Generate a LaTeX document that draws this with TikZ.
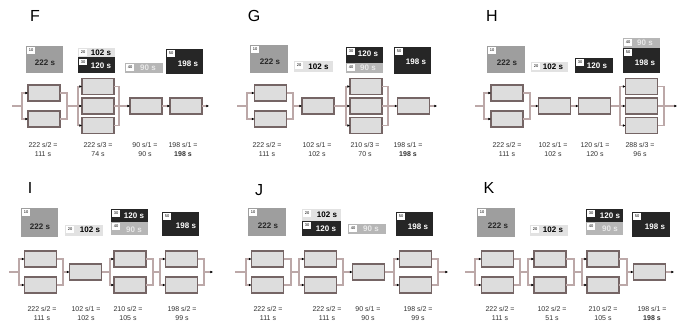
\documentclass[tikz,border=0pt]{standalone}
\usepackage{fontspec}
\setmainfont{Liberation Sans}
\usetikzlibrary{arrows.meta,calc}
\definecolor{cTen}{HTML}{9E9E9E}
\definecolor{cLight}{HTML}{E2E2E2}
\definecolor{cDark}{HTML}{262626}
\definecolor{cMid}{HTML}{B6B6B6}
\definecolor{cMidTxt}{HTML}{E8E8E8}
\definecolor{wsFill}{HTML}{DDDDDD}
\definecolor{wsLine}{HTML}{756565}
\definecolor{cnLine}{HTML}{BCA8A8}
\definecolor{resTxt}{HTML}{333333}
\tikzset{
  ws/.style={draw=wsLine, fill=wsFill, line width=1.2pt, minimum width=32pt, minimum height=16pt, inner sep=0pt, outer sep=0pt},
  cn/.style={draw=cnLine, line width=1.3pt},
  tip/.style={-{Latex[length=2.6pt,width=2.6pt,color=black]}},
  lbl/.style={fill=white, font=\fontsize{4}{4}\selectfont, text=black, minimum width=8pt, minimum height=6.5pt, inner sep=0pt},
  tt/.style={font=\fontsize{8}{9}\selectfont\bfseries, inner sep=0pt},
  onLight/.style={text=black},
  onDark/.style={text=white},
  onMid/.style={text=cMidTxt},
  onTen/.style={text=black!85},
  res/.style={font=\fontsize{7}{9}\selectfont, align=center, inner sep=0pt, text=resTxt},
  letter/.style={font=\fontsize{16}{16}\selectfont, inner sep=0pt, text=black}
}
% #1 panel, #2 stage, #3 count, #4 centre x, #5 main y, #6 left junction x, #7 right junction x
\newcommand{\Stage}[7]{%
  \ifcase#3\or
    \node[ws] (#1#2a) at (#4,#5) {};
    \coordinate (#1#2in) at ($(#1#2a.west)+(-5,0)$);
    \coordinate (#1#2out) at (#1#2a.east);
    \draw[cn,tip] (#1#2in) -- (#1#2a.west);
  \or
    \node[ws] (#1#2a) at (#4,#5-13) {};
    \node[ws] (#1#2b) at (#4,#5+13) {};
    \coordinate (#1#2in) at (#6,#5);
    \coordinate (#1#2out) at (#7,#5);
    \draw[cn,tip] (#1#2in) |- (#1#2a.west);
    \draw[cn,tip] (#1#2in) |- (#1#2b.west);
    \draw[cn] (#1#2a.east) -| (#1#2out);
    \draw[cn] (#1#2b.east) -| (#1#2out);
  \or
    \node[ws] (#1#2a) at (#4,#5-19.5) {};
    \node[ws] (#1#2b) at (#4,#5) {};
    \node[ws] (#1#2c) at (#4,#5+19.5) {};
    \coordinate (#1#2in) at (#6,#5);
    \coordinate (#1#2out) at (#7,#5);
    \draw[cn,tip] (#1#2in) |- (#1#2a.west);
    \draw[cn,tip] (#1#2in) -- (#1#2b.west);
    \draw[cn,tip] (#1#2in) |- (#1#2c.west);
    \draw[cn] (#1#2a.east) -| (#1#2out);
    \draw[cn] (#1#2b.east) -- (#1#2out);
    \draw[cn] (#1#2c.east) -| (#1#2out);
  \fi}
% #1 panel, #2 main y, #3 start x, #4 end x
\newcommand{\Links}[4]{%
  \coordinate (#1s) at (#3,#2);
  \coordinate (#1e) at (#4,#2);
  \draw[cn] (#1s) -- (#11in);
  \draw[cn] (#11out) -- (#12in);
  \draw[cn] (#12out) -- (#13in);
  \draw[cn] (#13out) -- (#14in);
  \draw[cn,tip] (#14out) -- (#1e);}
% #1 name, #2 x1, #3 y1, #4 x2, #5 y2, #6 fill, #7 label
\newcommand{\TaskBox}[7]{%
  \fill[#6] (#2,#3) rectangle (#4,#5);
  \node[lbl,anchor=north west] (#1) at (#2+1,#3+1) {#7};}
\newcommand{\TaskText}[5]{\node[tt,#4] (#1) at (#2,#3) {#5};}

\begin{document}
\begin{tikzpicture}[x=1pt,y=-1pt]
\fill[white] (0,0) rectangle (683,336);
\useasboundingbox (0,0) rectangle (683,336);

% ---------------- F ----------------
\node[letter] (FL) at (35,16) {F};
\TaskBox{Ft10}{26}{46}{63}{73}{cTen}{10} \TaskText{Fx10}{45}{63}{onTen}{222 s}
\TaskBox{Ft20}{78}{48}{115}{57.5}{cLight}{20} \TaskText{Fx20}{101}{53}{onLight}{102 s}
\TaskBox{Ft30}{78}{57.5}{115}{73}{cDark}{30} \TaskText{Fx30}{101}{66}{onDark}{120 s}
\TaskBox{Ft40}{125}{63}{163}{73}{cMid}{40} \TaskText{Fx40}{148}{68}{onMid}{90 s}
\TaskBox{Ft50}{166}{49}{203}{74}{cDark}{50} \TaskText{Fx50}{188}{64}{onDark}{198 s}
\Stage{F}{1}{2}{44}{106}{22}{67}
\Stage{F}{2}{3}{98}{106}{78}{119}
\Stage{F}{3}{1}{146}{106}{0}{0}
\Stage{F}{4}{1}{186}{106}{0}{0}
\Links{F}{106}{12}{209}
\node[res] (Fr1) at (43,149.5) {222 s/2 =\\111 s};
\node[res] (Fr2) at (98,149.5) {222 s/3 =\\74 s};
\node[res] (Fr3) at (145,149.5) {90 s/1 =\\90 s};
\node[res] (Fr4) at (183,149.5) {198 s/1 =\\\textbf{198 s}};

% ---------------- G ----------------
\node[letter] (GL) at (254,16) {G};
\TaskBox{Gt10}{250}{45}{288}{73}{cTen}{10} \TaskText{Gx10}{270}{62}{onTen}{222 s}
\TaskBox{Gt20}{294}{61}{333}{72}{cLight}{20} \TaskText{Gx20}{318.5}{66.5}{onLight}{102 s}
\TaskBox{Gt30}{346}{47}{383}{63}{cDark}{30} \TaskText{Gx30}{368}{54}{onDark}{120 s}
\TaskBox{Gt40}{346}{63}{383}{73}{cMid}{40} \TaskText{Gx40}{368}{68}{onMid}{90 s}
\TaskBox{Gt50}{394}{47}{431}{74}{cDark}{50} \TaskText{Gx50}{416}{62}{onDark}{198 s}
\Stage{G}{1}{2}{270.5}{106}{247}{293}
\Stage{G}{2}{1}{318}{106}{0}{0}
\Stage{G}{3}{3}{366}{106}{346}{388}
\Stage{G}{4}{1}{413.5}{106}{0}{0}
\Links{G}{106}{237}{437}
\node[res] (Gr1) at (267,149.5) {222 s/2 =\\111 s};
\node[res] (Gr2) at (317,149.5) {102 s/1 =\\102 s};
\node[res] (Gr3) at (365,149.5) {210 s/3 =\\70 s};
\node[res] (Gr4) at (408,149.5) {198 s/1 =\\\textbf{198 s}};

% ---------------- H ----------------
\node[letter] (HL) at (492,16) {H};
\TaskBox{Ht10}{487}{46}{525}{73}{cTen}{10} \TaskText{Hx10}{507}{63}{onTen}{222 s}
\TaskBox{Ht20}{531}{62}{568}{72}{cLight}{20} \TaskText{Hx20}{553}{67}{onLight}{102 s}
\TaskBox{Ht30}{575}{58}{613}{73}{cDark}{30} \TaskText{Hx30}{597}{66}{onDark}{120 s}
\TaskBox{Ht40}{623}{38}{660}{48}{cMid}{40} \TaskText{Hx40}{645}{43}{onMid}{90 s}
\TaskBox{Ht50}{623}{48}{660}{73}{cDark}{50} \TaskText{Hx50}{645}{63}{onDark}{198 s}
\Stage{H}{1}{2}{507}{106}{484}{530}
\Stage{H}{2}{1}{554.5}{106}{0}{0}
\Stage{H}{3}{1}{594.5}{106}{0}{0}
\Stage{H}{4}{3}{641.5}{106}{620}{664}
\Links{H}{106}{475}{677}
\node[res] (Hr1) at (507,149.5) {222 s/2 =\\111 s};
\node[res] (Hr2) at (553,149.5) {102 s/1 =\\102 s};
\node[res] (Hr3) at (595,149.5) {120 s/1 =\\120 s};
\node[res] (Hr4) at (640,149.5) {288 s/3 =\\96 s};

% ---------------- I ----------------
\node[letter] (IL) at (30,188) {I};
\TaskBox{It10}{21}{208}{58}{237}{cTen}{10} \TaskText{Ix10}{40}{227}{onTen}{222 s}
\TaskBox{It20}{65}{225}{103}{236}{cLight}{20} \TaskText{Ix20}{90}{230}{onLight}{102 s}
\TaskBox{It30}{111}{209}{148}{222}{cDark}{30} \TaskText{Ix30}{134}{216}{onDark}{120 s}
\TaskBox{It40}{111}{222}{148}{235}{cMid}{40} \TaskText{Ix40}{134}{229.5}{onMid}{90 s}
\TaskBox{It50}{162}{212}{199}{236}{cDark}{50} \TaskText{Ix50}{186}{226}{onDark}{198 s}
\Stage{I}{1}{2}{40.5}{272}{19}{63}
\Stage{I}{2}{1}{85.5}{272}{0}{0}
\Stage{I}{3}{2}{130}{272}{110}{153}
\Stage{I}{4}{2}{181.5}{272}{160}{204}
\Links{I}{272}{9}{213}
\node[res] (Ir1) at (42,313) {222 s/2 =\\111 s};
\node[res] (Ir2) at (86,313) {102 s/1 =\\102 s};
\node[res] (Ir3) at (128,313) {210 s/2 =\\105 s};
\node[res] (Ir4) at (182,313) {198 s/2 =\\99 s};

% ---------------- J ----------------
\node[letter] (JL) at (259,190) {J};
\TaskBox{Jt10}{248}{208}{286}{236}{cTen}{10} \TaskText{Jx10}{268}{226}{onTen}{222 s}
\TaskBox{Jt20}{302}{209}{341}{221}{cLight}{20} \TaskText{Jx20}{327}{215}{onLight}{102 s}
\TaskBox{Jt30}{302}{221}{341}{236}{cDark}{30} \TaskText{Jx30}{326}{229}{onDark}{120 s}
\TaskBox{Jt40}{348}{224}{386}{234}{cMid}{40} \TaskText{Jx40}{371}{229}{onMid}{90 s}
\TaskBox{Jt50}{396}{212}{433}{236}{cDark}{50} \TaskText{Jx50}{418}{227}{onDark}{198 s}
\Stage{J}{1}{2}{267.5}{272}{246}{291}
\Stage{J}{2}{2}{320.5}{272}{299}{343}
\Stage{J}{3}{1}{368.5}{272}{0}{0}
\Stage{J}{4}{2}{415.5}{272}{394}{438}
\Links{J}{272}{235}{448}
\node[res] (Jr1) at (268,313) {222 s/2 =\\111 s};
\node[res] (Jr2) at (327,313) {222 s/2 =\\111 s};
\node[res] (Jr3) at (368,313) {90 s/1 =\\90 s};
\node[res] (Jr4) at (418,313) {198 s/2 =\\99 s};

% ---------------- K ----------------
\node[letter] (KL) at (489,188) {K};
\TaskBox{Kt10}{477}{208}{515}{237}{cTen}{10} \TaskText{Kx10}{498}{226}{onTen}{222 s}
\TaskBox{Kt20}{530}{225}{568}{236}{cLight}{20} \TaskText{Kx20}{553}{230}{onLight}{102 s}
\TaskBox{Kt30}{586}{209}{623}{222}{cDark}{30} \TaskText{Kx30}{610}{216}{onDark}{120 s}
\TaskBox{Kt40}{586}{222}{623}{235}{cMid}{40} \TaskText{Kx40}{610}{229}{onMid}{90 s}
\TaskBox{Kt50}{632}{212}{670}{237}{cDark}{50} \TaskText{Kx50}{655}{227}{onDark}{198 s}
\Stage{K}{1}{2}{497.5}{272}{475}{520}
\Stage{K}{2}{2}{550}{272}{528}{574}
\Stage{K}{3}{2}{603}{272}{582}{627}
\Stage{K}{4}{1}{649.5}{272}{0}{0}
\Links{K}{272}{465}{674}
\node[res] (Kr1) at (500,313) {222 s/2 =\\111 s};
\node[res] (Kr2) at (552,313) {102 s/2 =\\51 s};
\node[res] (Kr3) at (603,313) {210 s/2 =\\105 s};
\node[res] (Kr4) at (652,313) {198 s/1 =\\\textbf{198 s}};
\end{tikzpicture}
\end{document}
